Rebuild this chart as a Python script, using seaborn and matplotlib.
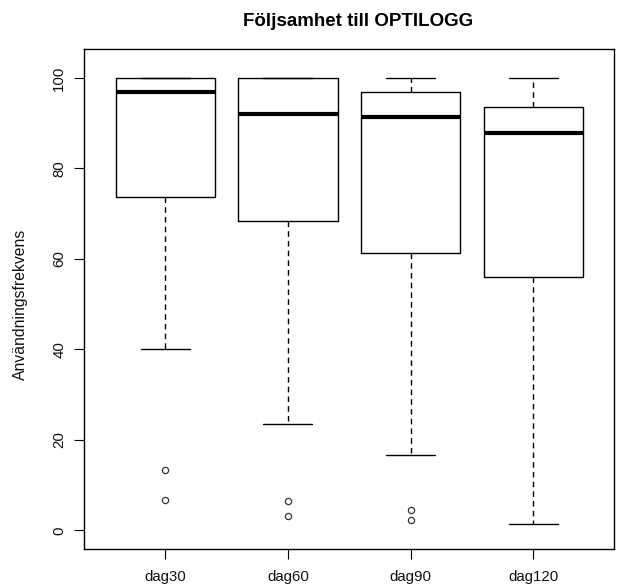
import numpy as np
import seaborn as sns
import matplotlib.pyplot as plt

# Values (five-number summary per day + outliers)
groups = ['dag30', 'dag60', 'dag90', 'dag120']
whisker_low = [40.0, 23.4, 16.6, 1.5]
q1 = [73.6, 68.4, 61.2, 55.9]
median = [96.8, 92.0, 91.4, 87.8]
q3 = [100.0, 100.0, 96.9, 93.5]
whisker_high = [100.0, 100.0, 100.0, 100.0]
outliers = [[13.3, 6.6], [6.5, 3.2], [4.4, 2.2], []]

sns.set_theme(style="white")
plt.rcParams['font.family'] = ['Liberation Sans', 'DejaVu Sans']

fig = plt.figure(figsize=(6.26, 5.87), dpi=100)
ax = fig.add_axes([84.3 / 626, 1 - 549.3 / 587, 530 / 626, 500.3 / 587])

stats = []
for i, g in enumerate(groups):
    stats.append({
        'label': g,
        'whislo': whisker_low[i],
        'q1': q1[i],
        'med': median[i],
        'q3': q3[i],
        'whishi': whisker_high[i],
        'fliers': np.array(outliers[i]),
    })

ax.bxp(stats, positions=range(1, len(groups) + 1), widths=0.81,
       showfliers=True,
       boxprops=dict(color='black', linewidth=1.0),
       medianprops=dict(color='black', linewidth=3.0, solid_capstyle='butt'),
       whiskerprops=dict(color='black', linewidth=1.0, linestyle=(0, (4, 3))),
       capprops=dict(color='black', linewidth=1.0),
       capwidths=0.4,
       flierprops=dict(marker='o', markerfacecolor='none', markeredgecolor='#333333',
                       markersize=4.5, markeredgewidth=0.9))

ax.set_xlim(0.34, 4.66)
ax.set_ylim(-4.2, 106.4)
ax.set_yticks([0, 20, 40, 60, 80, 100])
ax.set_xticks(range(1, len(groups) + 1))
ax.set_xticklabels(groups)

for s in ax.spines.values():
    s.set_color('black')
    s.set_linewidth(1.0)
ax.tick_params(axis='both', direction='out', length=7, width=0.8, color='black',
               labelsize=10.8, labelcolor='#111111', left=True, bottom=True)
ax.tick_params(axis='x', pad=8)
ax.tick_params(axis='y', pad=6)
for lbl in ax.get_yticklabels():
    lbl.set_rotation(90)
    lbl.set_va('center')

fig.text(20 / 626, 1 - 304 / 587, 'Användningsfrekvens', rotation=90,
         ha='center', va='center', fontsize=11.3, color='#111111')
fig.text(358 / 626, 1 - 21 / 587, 'Följsamhet till OPTILOGG', ha='center', va='center',
         fontsize=13.5, fontweight='bold', color='black')

fig.savefig('out.png', dpi=100)
